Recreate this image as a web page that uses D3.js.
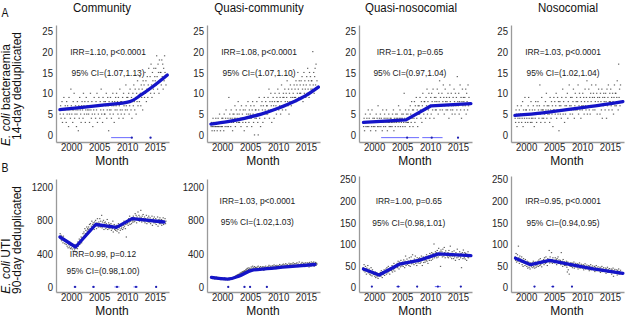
<!DOCTYPE html>
<html>
<head>
<meta charset="utf-8">
<script src="https://cdn.jsdelivr.net/npm/d3@7"></script>
<style>
  body { margin: 0; background: #fff; }
  svg { display: block; font-family: "Liberation Sans", Arial, sans-serif; }
</style>
</head>
<body>
<svg id="chart" width="640" height="321"></svg>
<script>
// ---- data (monthly counts, Jan 1998 onwards) ----
var startYear = 1998;
var titles = ['Community', 'Quasi-community', 'Quasi-nosocomial', 'Nosocomial'];
var yearTicks = [2000, 2005, 2010, 2015];
var bactTicks = [0, 5, 10, 15, 20, 25];
var utiTicksHigh = [0, 400, 800, 1200];
var utiTicksLow = [0, 50, 100, 150, 200, 250];

var bactCommunity = [
  5,7,4,6,8,3,6,5,9,6,4,7, 6,3,8,5,7,6,2,9,5,6,4,11, 7,5,6,3,8,6,10,4,5,7,6,2,
  5,8,6,1,7,4,9,6,5,3,7,8, 6,4,10,7,5,8,3,6,9,5,7,6, 8,5,6,3,7,10,6,4,8,5,2,7,
  6,9,5,7,4,8,6,10,3,7,5,9, 7,4,8,6,11,5,7,3,9,6,8,5, 5,8,7,10,4,6,9,7,1,8,6,5,
  9,6,4,7,8,10,5,7,3,8,6,9, 7,10,6,8,5,9,4,7,11,6,8,5, 8,6,9,4,10,7,5,8,6,12,7,9,
  6,9,8,10,5,7,11,8,6,9,4,8, 10,7,12,8,6,11,9,5,10,8,13,7, 9,11,8,14,10,7,12,9,11,6,13,10,
  12,9,15,10,13,8,11,14,9,12,16,11, 11,14,10,17,12,9,15,13,11,16,10,14, 13,16,12,19,14,11,17,15,10,18,13,15,
  15,12,18,14,17,11,16,13,19,15,14,12
];
var bactQuasiCommunity = [
  2,3,1,2,4,3,2,1,3,2,4,2, 3,1,2,4,2,3,5,2,1,3,2,4, 2,4,3,1,5,3,2,4,6,3,2,3,
  4,2,9,3,5,4,2,6,3,4,1,5, 3,5,4,7,2,4,6,3,5,4,8,3, 5,3,6,4,2,7,4,5,3,6,4,1,
  4,6,3,7,5,2,4,8,5,3,6,4, 5,7,4,2,6,8,5,3,7,0,4,6, 6,4,8,5,3,0,6,9,4,5,2,7,
  5,8,6,3,7,5,9,4,6,8,5,7, 7,5,9,6,11,4,8,6,10,7,3,8, 6,9,7,4,8,10,6,7,5,9,8,11,
  8,6,10,7,9,5,8,12,7,6,9,10, 9,7,11,8,6,10,9,13,8,7,11,5, 10,8,12,9,7,11,14,9,10,8,12,9,
  11,9,13,8,12,10,15,11,9,13,10,12, 10,13,9,14,11,8,12,15,10,13,11,9, 12,14,10,16,11,13,9,15,12,14,11,13,
  13,11,20,12,15,10,14,16,12,17,11,13
];
var bactQuasiNosocomial = [
  3,2,4,1,3,5,2,3,4,2,3,6, 2,4,3,5,1,3,2,6,3,4,2,3, 4,2,3,1,5,3,4,2,7,3,2,4,
  3,5,2,4,3,1,6,3,2,4,5,3, 2,4,6,3,1,4,3,5,2,3,4,2, 4,3,2,5,3,6,1,4,3,2,5,4,
  3,5,4,2,7,3,4,6,2,4,3,5, 4,2,5,3,10,4,2,6,3,5,4,3, 5,3,6,4,2,7,5,3,8,4,6,2,
  6,4,8,3,7,5,9,4,6,2,7,5, 7,5,9,6,4,8,3,7,10,6,5,8, 8,6,4,9,7,11,5,8,6,10,7,4,
  7,9,5,10,8,6,11,7,4,9,8,6, 9,6,8,11,7,5,10,8,13,6,9,7, 7,10,6,8,12,9,5,7,11,8,6,9,
  8,6,10,7,4,9,12,8,6,10,7,5, 6,9,7,11,8,5,10,7,9,6,14,8, 7,10,5,8,12,6,9,4,8,11,7,9,
  8,6,9,7,11,5,10,8,6,12,7,9
];
var bactNosocomial = [
  4,3,6,5,2,7,4,5,3,6,4,5, 5,7,3,4,8,2,6,5,4,9,3,6, 6,4,5,3,7,9,4,6,5,3,8,4,
  3,6,4,7,5,2,6,4,8,5,3,7, 5,8,6,4,7,12,5,3,6,9,4,6, 6,4,7,5,3,8,6,10,4,7,5,6,
  7,5,3,9,6,4,8,5,7,2,6,9, 6,8,5,7,10,4,6,9,5,8,1,7, 8,5,7,4,9,6,11,5,8,6,3,7,
  5,9,7,6,10,4,8,6,12,7,5,9, 7,6,9,5,8,11,6,4,7,10,6,8, 9,6,8,12,5,7,10,6,9,4,8,7,
  6,10,7,9,5,8,11,7,6,9,13,5, 8,7,11,6,9,5,10,8,12,7,9,6, 10,7,9,6,8,12,7,10,5,9,8,11,
  7,9,5,10,8,6,11,4,9,7,10,8, 9,6,10,8,4,11,7,9,12,6,8,10, 8,11,7,9,6,10,8,5,9,12,7,10,
  10,7,9,13,8,6,17,9,11,7,12,8
];

var utiCommunity = [
  640,580,620,555,600,590,530,610,560,575,520,545, 560,510,545,490,530,470,520,505,480,535,460,500,
  470,520,455,490,430,500,465,445,510,480,420,470, 500,460,540,490,520,575,510,560,545,600,530,590,
  580,640,600,660,620,700,640,680,610,720,670,700, 690,720,660,750,700,760,680,730,790,710,750,770,
  740,690,780,730,800,750,700,770,820,740,720,780, 760,820,720,790,740,860,710,780,750,800,690,770,
  730,780,700,760,720,810,690,740,770,700,750,720, 710,760,680,740,700,790,660,720,750,690,730,680,
  700,740,670,720,690,760,650,710,730,680,740,700, 720,760,690,740,710,790,730,770,700,750,600,780,
  760,800,740,820,770,850,750,790,810,760,830,780, 800,850,780,830,790,880,820,860,770,840,810,900,
  810,860,790,840,800,920,830,780,850,810,870,820, 790,840,770,820,800,860,760,810,830,780,850,800,
  780,830,760,810,790,850,740,800,820,770,840,790, 770,820,750,800,780,840,730,790,810,760,830,780,
  760,810,740,800,770,830,750,790,780,820,760,790
];
var utiQuasiCommunity = [
  120,110,105,125,100,115,108,118,95,112,104,120, 108,98,115,102,92,110,100,95,105,88,112,98,
  95,105,88,100,92,110,85,98,102,90,96,88, 100,92,105,88,98,110,95,102,90,108,96,104,
  115,105,125,110,130,120,138,125,145,132,150,140, 155,145,165,150,170,160,178,165,185,172,190,180,
  195,185,205,190,215,200,225,198,210,230,205,220, 200,215,240,210,225,250,205,230,215,245,210,235,
  215,230,205,240,220,250,210,225,235,200,245,220, 220,235,210,245,225,200,240,230,215,250,225,235,
  230,215,245,225,260,235,220,250,230,240,215,255, 235,250,225,265,240,230,255,220,245,260,235,250,
  240,255,230,270,245,225,260,250,235,265,245,275, 250,240,265,235,280,255,245,270,250,260,240,285,
  255,270,245,280,260,240,275,250,290,265,255,280, 260,250,280,255,290,265,245,275,260,300,255,270,
  265,280,250,295,270,255,285,260,275,245,290,265, 270,255,290,260,285,275,240,295,265,280,250,300,
  275,260,290,265,300,250,280,270,295,260,285,275
];
var utiQuasiNosocomial = [
  45,38,52,40,35,48,42,30,44,37,50,33, 36,42,30,38,28,45,33,26,40,31,35,29,
  30,25,35,22,28,33,24,29,20,31,26,27, 28,34,25,38,30,22,36,29,33,40,27,35,
  35,42,30,45,38,33,48,36,41,30,44,39, 42,38,50,35,46,40,55,43,37,49,45,52,
  48,55,45,60,50,42,58,52,47,62,53,49, 52,58,48,63,55,45,60,72,50,57,65,53,
  55,60,50,68,57,48,62,70,54,59,75,56, 58,52,65,60,72,55,63,50,68,60,56,66,
  60,68,55,64,58,72,62,50,66,70,57,63, 64,58,70,62,75,60,68,55,72,66,62,78,
  68,74,62,80,70,65,78,72,100,68,76,82, 72,80,68,85,75,70,90,78,74,82,48,86,
  75,82,70,88,76,72,92,80,68,84,78,74, 74,70,80,68,85,72,76,95,70,78,66,82,
  72,78,66,84,70,75,62,80,74,68,88,76, 70,76,64,82,72,68,78,45,74,80,66,86,
  72,68,80,65,78,74,62,76,70,82,68,75
];
var utiNosocomial = [
  70,62,78,58,66,75,60,95,68,55,72,64, 65,58,70,52,62,48,66,56,60,50,64,54,
  55,48,60,44,52,58,46,54,42,56,50,47, 50,56,45,60,48,53,44,58,51,46,55,49,
  54,60,48,63,55,50,66,52,58,47,61,56, 58,64,52,68,60,55,70,57,62,50,66,59,
  60,85,56,70,62,58,80,64,55,68,61,57, 62,56,68,58,64,52,66,60,70,55,63,58,
  58,62,52,80,56,60,48,64,54,59,50,57, 55,50,60,46,35,58,40,52,30,54,48,56,
  52,48,56,45,54,50,58,44,52,47,55,49, 50,46,54,42,52,48,56,44,50,45,53,47,
  48,44,52,40,50,46,54,42,48,43,51,45, 46,42,50,38,48,44,52,40,46,41,49,43,
  44,40,48,36,46,42,50,38,44,39,47,41, 42,38,46,34,44,40,48,36,42,37,45,39,
  40,36,44,32,42,38,46,34,40,35,43,37, 38,34,42,30,40,36,44,25,38,33,41,35,
  36,32,40,28,38,34,42,30,36,31,39,33
];

// fitted trend knots [year, value]
var bactTrends = [
  [[1998.0, 6.1], [2002, 6.6], [2006, 7.2], [2010.5, 8.0], [2012.5, 9.6], [2014.5, 11.5], [2017.2, 14.4]],
  [[1998.0, 2.6], [2001, 3.2], [2004, 4.0], [2007, 5.0], [2010, 6.4], [2013, 8.1], [2015, 9.5], [2017.2, 11.5]],
  [[1998.1, 3.0], [2005.7, 3.6], [2010.2, 7.0], [2017.3, 7.5]],
  [[1998.0, 4.7], [2003, 5.3], [2008, 6.2], [2013, 7.1], [2017.3, 8.0]]
];
var utiTrends = [
  [[1998.0, 600], [2000.8, 480], [2004.4, 750], [2008.1, 715], [2010.9, 820], [2016.6, 780]],
  [[1998.1, 115], [2001, 95], [2003, 130], [2005.3, 200], [2008, 220], [2012, 245], [2016.6, 270]],
  [[1998.1, 42], [2000.9, 28], [2004.5, 53], [2008, 62], [2011.5, 77], [2017.3, 73]],
  [[1998.1, 67], [2000.8, 52], [2004.2, 62], [2008, 52], [2012, 42], [2017.3, 32]]
];

// change-point intervals [low, high, estimate]
var bactBreaks = [
  [[2007.3, 2010.85, 2010.85], [2014.2, 2014.2, 2014.2]],
  [],
  [[2001.4, 2007.9, 2005.9], [2008.75, 2012.1, 2010.3], [2015.0, 2015.0, 2015.0]],
  []
];
var utiBreaks = [
  [[2000.6, 2000.8, 2000.7], [2003.9, 2004.1, 2004.0], [2007.9, 2008.5, 2008.2], [2011.3, 2011.8, 2011.6], [2015.2, 2015.2, 2015.2]],
  [[2001.1, 2001.1, 2001.1], [2004.0, 2004.0, 2004.0], [2005.0, 2005.0, 2005.0], [2008.0, 2008.0, 2008.0]],
  [[1999.6, 1999.6, 1999.6], [2004.1, 2004.5, 2004.3], [2007.7, 2007.7, 2007.7], [2011.0, 2011.8, 2011.4], [2015.5, 2015.5, 2015.5]],
  [[2001.5, 2001.5, 2001.5], [2004.6, 2004.9, 2004.8], [2008.2, 2008.2, 2008.2]]
];

var irrBact = ['IRR=1.10, p<0.0001', 'IRR=1.08, p<0.0001', 'IRR=1.01, p=0.65', 'IRR=1.03, p<0.0001'];
var ciBact = ['95% CI=(1.07,1.13)', '95% CI=(1.07,1.10)', '95% CI=(0.97,1.04)', '95% CI=(1.02,1.04)'];
var irrUti = ['IRR=0.99, p=0.12', 'IRR=1.03, p<0.0001', 'IRR=1.00, p=0.65', 'IRR=0.95, p<0.0001'];
var ciUti = ['95% CI=(0.98,1.00)', '95% CI=(1.02,1.03)', '95% CI=(0.98,1.01)', '95% CI=(0.94,0.95)'];

// ---- layout ----
var svg = d3.select('#chart');
var axisX = [56, 207, 359, 511];
var plotW = 113;
var xDomain = [1997.3, 2017.5];
var blue = '#1414c8';
var stretch = 1.15;   // glyphs in the source are a bit taller than wide

// horizontal text, vertically stretched around its baseline
function label(x, y, txt, size, anchor, sy) {
  return svg.append('text')
    .attr('transform', 'translate(' + x + ',' + y + ') scale(1,' + (sy || stretch) + ')')
    .attr('text-anchor', anchor || 'middle')
    .attr('font-size', size).attr('fill', '#111')
    .text(txt);
}

var rows = [
  {
    series: [bactCommunity, bactQuasiCommunity, bactQuasiNosocomial, bactNosocomial],
    trends: bactTrends, breaks: bactBreaks, irr: irrBact, ci: ciBact,
    ticks: [bactTicks, bactTicks, bactTicks, bactTicks],
    domains: [[-1.7, 26.4], [-1.7, 26.4], [-1.7, 26.4], [-1.7, 26.4]],
    ranges: [[142, 25], [142, 25], [142, 25], [142, 25]],
    annX: [2006.6, 2006.6, 2006.4, 2006.6],
    annY: [[20, 15.1], [20, 15.1], [20, 15.1], [20, 15.1]],
    smooth: [true, true, false, true],
    breakY: -0.65,
    monthY: 164.5, monthStretch: 1.0
  },
  {
    series: [utiCommunity, utiQuasiCommunity, utiQuasiNosocomial, utiNosocomial],
    trends: utiTrends, breaks: utiBreaks, irr: irrUti, ci: ciUti,
    ticks: [utiTicksHigh, utiTicksHigh, utiTicksLow, utiTicksLow],
    domains: [[-60, 1296], [-60, 1296], [-11.5, 258], [-11.5, 258]],
    ranges: [[292, 179], [292, 179], [292, 176], [292, 176]],
    annX: [2005.7, 2006.3, 2006.2, 2006.6],
    annY: [[400, 200], [1040, 790], [200, 150], [200, 150]],
    smooth: [false, true, false, false],
    breakY: 1,
    monthY: 314.5, monthStretch: 1.05
  }
];

rows.forEach(function(row, r) {
  for (var c = 0; c < 4; c++) {
    var x = d3.scaleLinear().domain(xDomain).range([axisX[c], axisX[c] + plotW]);
    var y = d3.scaleLinear().domain(row.domains[c]).range(row.ranges[c]);
    var g = svg.append('g');

    // axes
    var xa = g.append('g')
      .attr('transform', 'translate(0,' + row.ranges[c][0] + ')')
      .call(d3.axisBottom(x).tickValues(yearTicks).tickFormat(d3.format('d'))
        .tickSize(0).tickSizeOuter(0).tickPadding(1.2));
    var ya = g.append('g')
      .attr('transform', 'translate(' + axisX[c] + ',0)')
      .call(d3.axisLeft(y).tickValues(row.ticks[c]).tickFormat(d3.format('d'))
        .tickSize(0).tickSizeOuter(0).tickPadding(3));
    [xa, ya].forEach(function(a) {
      a.select('.domain').attr('stroke', '#9a9a9a').attr('stroke-width', 1.3);
      a.selectAll('text').attr('font-size', 9.6).attr('fill', '#262626')
        .attr('font-family', '"Liberation Sans", Arial, sans-serif')
        .attr('transform', 'scale(1,' + stretch + ')');
    });
    xa.selectAll('text').attr('y', 1.2 / stretch);

    // monthly points
    var pts = row.series[c].map(function(v, i) {
      return {t: startYear + (i + 0.5) / 12, v: v};
    });
    g.append('g').selectAll('rect').data(pts).join('rect')
      .attr('x', function(d) { return x(d.t) - 0.65; })
      .attr('y', function(d) { return y(d.v) - 0.55; })
      .attr('width', 1.3).attr('height', 1.1)
      .attr('fill', '#333').attr('opacity', 0.8);

    // trend
    var line = d3.line()
      .x(function(d) { return x(d[0]); })
      .y(function(d) { return y(d[1]); })
      .curve(row.smooth[c] ? d3.curveMonotoneX : d3.curveLinear);
    g.append('path').datum(row.trends[c])
      .attr('d', line).attr('fill', 'none')
      .attr('stroke', blue).attr('stroke-width', 3.3)
      .attr('stroke-linejoin', 'round').attr('stroke-linecap', 'round');

    // change points
    var bg = g.append('g');
    row.breaks[c].forEach(function(b) {
      bg.append('line')
        .attr('x1', x(b[0]) - 0.8).attr('x2', x(b[1]) + 0.8)
        .attr('y1', y(row.breakY)).attr('y2', y(row.breakY))
        .attr('stroke', '#6a6aff').attr('stroke-width', 1);
      bg.append('circle')
        .attr('cx', x(b[2])).attr('cy', y(row.breakY)).attr('r', 1.1)
        .attr('fill', '#2020b0');
    });

    // annotations
    [row.irr[c], row.ci[c]].forEach(function(txt, k) {
      label(x(row.annX[c]), y(row.annY[c][k]) + 3.5, txt, 8.4).attr('fill', '#1a1a1a');
    });

    // x title
    label(axisX[c] + 56, row.monthY, 'Month', 12, 'middle', row.monthStretch);

    if (r === 0) {
      label([102, 259, 411, 568][c], 11.5, titles[c], 11.5, 'middle', 1.05);
    }
  }
});

// panel letters
label(1.5, 17, 'A', 10.5, 'start');
label(1.5, 172, 'B', 10.5, 'start');

// y titles (two lines each, rotated)
function yTitle(cx, cy, parts) {
  var t = svg.append('text')
    .attr('transform', 'translate(' + cx + ',' + cy + ') rotate(-90)')
    .attr('dy', '0.35em').attr('text-anchor', 'middle')
    .attr('font-size', 12).attr('fill', '#111');
  parts.forEach(function(p) {
    t.append('tspan').attr('font-style', p[1] ? 'italic' : null).text(p[0]);
  });
}
yTitle(6, 95, [['E. coli', true], [' bacteraemia', false]]);
yTitle(16.5, 86, [['14-day deduplicated', false]]);
yTitle(6, 266, [['E. coli', true], [' UTI', false]]);
yTitle(16.5, 240, [['90-day deduplicated', false]]);
</script>
</body>
</html>
